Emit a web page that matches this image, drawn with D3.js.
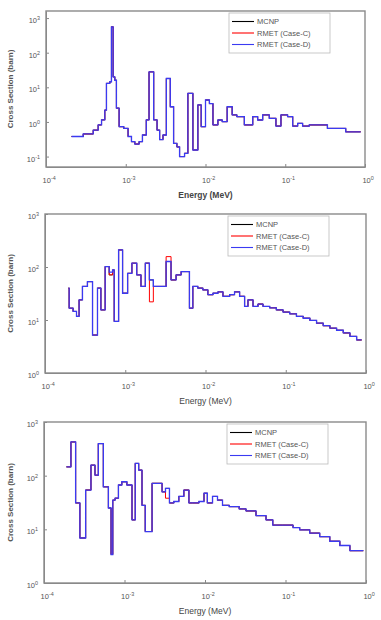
<!DOCTYPE html>
<html>
<head>
<meta charset="utf-8">
<script src="https://cdn.jsdelivr.net/npm/d3@7"></script>
<style>
  body { margin: 0; background: #fff; }
  svg { display: block; font-family: "Liberation Sans", Arial, sans-serif; }
  .axis path, .axis line { stroke: #888; }
  .axis text { fill: #555; }
</style>
</head>
<body>
<div id="chart"></div>
<script>
// ---- data (energy in MeV, cross section in barn) ----
var energyTicks = [1e-4, 1e-3, 1e-2, 1e-1, 1];
var seriesNames = ["MCNP", "RMET (Case-C)", "RMET (Case-D)"];
var seriesColors = ["#000000", "#ff0000", "#3a3af2"];

// panel 1
var p1Edges = [2.09e-4, 2.93e-4, 3.91e-4, 4.51e-4, 4.97e-4, 5.46e-4, 5.73e-4, 6.31e-4, 6.62e-4, 6.95e-4,
  7.29e-4, 7.64e-4, 8.26e-4, 9.44e-4, 1.07e-3, 1.18e-3, 1.30e-3, 1.47e-3, 1.62e-3, 1.81e-3,
  1.96e-3, 2.24e-3, 2.47e-3, 2.66e-3, 2.93e-3, 3.23e-3, 3.62e-3, 3.98e-3, 4.38e-3, 4.73e-3,
  5.46e-3, 6.01e-3, 6.95e-3, 8.02e-3, 8.83e-3, 1.0e-2, 1.12e-2, 1.24e-2, 1.43e-2, 1.62e-2,
  1.87e-2, 2.16e-2, 2.47e-2, 3.07e-2, 3.91e-2, 4.51e-2, 5.21e-2, 6.31e-2, 7.64e-2, 8.83e-2,
  0.107, 0.124, 0.143, 0.165, 0.20, 0.338, 0.573, 0.883];
var p1Mcnp = [0.38, 0.45, 0.58, 0.82, 1.15, 2.2, 13, 14.5, 560, 20,
  16, 2.5, 0.73, 0.65, 0.38, 0.27, 0.23, 0.27, 0.42, 1.15,
  28, 1.15, 0.58, 0.31, 0.42, 18, 2.75, 0.24, 0.19, 0.10,
  0.124, 6.7, 0.155, 3.1, 0.73, 4.3, 3.4, 0.82, 1.14, 1.02,
  2.75, 1.6, 1.42, 0.82, 1.42, 1.14, 1.6, 1.27, 0.76, 1.6,
  1.42, 0.76, 0.91, 0.76, 0.82, 0.65, 0.52];
var p1CaseC = [0.38, 0.45, 0.58, 0.82, 1.15, 2.2, 13, 14.5, 560, 20,
  16, 2.5, 0.73, 0.65, 0.38, 0.27, 0.23, 0.27, 0.42, 1.15,
  28, 1.15, 0.58, 0.31, 0.42, 18, 2.75, 0.24, 0.19, 0.10,
  0.124, 6.7, 0.155, 3.1, 0.73, 4.3, 3.4, 0.82, 1.14, 1.02,
  2.75, 1.6, 1.42, 0.82, 1.42, 1.14, 1.6, 1.27, 0.76, 1.6,
  1.42, 0.76, 0.91, 0.76, 0.82, 0.65, 0.52];
var p1CaseD = [0.38, 0.45, 0.58, 0.82, 1.15, 2.2, 13, 14.5, 560, 20,
  16, 2.5, 0.73, 0.65, 0.38, 0.27, 0.23, 0.27, 0.42, 1.15,
  28, 1.15, 0.58, 0.31, 0.42, 18, 2.75, 0.24, 0.19, 0.10,
  0.124, 6.7, 0.155, 3.1, 0.73, 4.3, 3.4, 0.82, 1.14, 1.02,
  2.75, 1.6, 1.42, 0.82, 1.42, 1.14, 1.6, 1.27, 0.76, 1.6,
  1.42, 0.76, 0.91, 0.76, 0.82, 0.65, 0.52];

// panel 2
var p2Edges = [1.96e-4, 2.0e-4, 2.24e-4, 2.47e-4, 2.66e-4, 2.93e-4, 3.38e-4, 3.91e-4, 4.51e-4, 4.97e-4,
  5.62e-4, 6.31e-4, 6.95e-4, 7.29e-4, 8.26e-4, 9.26e-4, 1.07e-3, 1.21e-3, 1.39e-3, 1.57e-3,
  1.78e-3, 2.0e-3, 2.24e-3, 3.23e-3, 3.72e-3, 4.30e-3, 4.97e-3, 6.31e-3, 6.95e-3, 8.02e-3,
  9.26e-3, 1.07e-2, 1.24e-2, 1.43e-2, 1.65e-2, 2.0e-2, 2.30e-2, 2.66e-2, 3.07e-2, 3.38e-2,
  3.91e-2, 4.51e-2, 5.21e-2, 6.31e-2, 7.64e-2, 9.26e-2, 0.112, 0.136, 0.165, 0.20,
  0.242, 0.293, 0.355, 0.43, 0.521, 0.631, 0.764, 0.883];
var p2Mcnp = [40, 16.7, 14.5, 11.7, 24, 43, 53, 5.2, 40, 15.5,
  102, 71, 88, 9.4, 210, 32, 76, 118, 71, 43,
  118, 57, 43, 127, 57, 71, 82, 16.7, 43, 40,
  37, 30, 32, 34, 28, 30, 34, 28, 18, 24,
  18, 20, 18, 17, 15.5, 14.1, 13.1, 11.7, 10.8, 9.8,
  8.7, 7.8, 7.0, 6.4, 5.7, 4.9, 4.2];
var p2CaseC = [40, 16.7, 14.5, 11.7, 24, 43, 53, 5.2, 40, 15.5,
  102, 71, 88, 9.4, 210, 32, 76, 118, 71, 43,
  118, 22, 43, 157, 57, 71, 82, 16.7, 43, 40,
  37, 30, 32, 34, 28, 30, 34, 28, 18, 24,
  18, 20, 18, 17, 15.5, 14.1, 13.1, 11.7, 10.8, 9.8,
  8.7, 7.8, 7.0, 6.4, 5.7, 4.9, 4.2];
var p2CaseD = [40, 16.7, 14.5, 11.7, 24, 43, 53, 5.2, 40, 15.5,
  102, 80, 88, 9.4, 210, 32, 76, 118, 71, 43,
  118, 57, 43, 127, 57, 71, 82, 16.7, 43, 40,
  37, 30, 32, 34, 28, 30, 34, 28, 18, 24,
  18, 20, 18, 17, 15.5, 14.1, 13.1, 11.7, 10.8, 9.8,
  8.7, 7.8, 7.0, 6.4, 5.7, 4.9, 4.2];

// panel 3
var p3Edges = [1.90e-4, 2.16e-4, 2.47e-4, 2.79e-4, 3.29e-4, 3.83e-4, 4.30e-4, 4.73e-4, 5.46e-4, 6.31e-4,
  6.81e-4, 7.15e-4, 7.64e-4, 8.41e-4, 9.26e-4, 1.07e-3, 1.24e-3, 1.36e-3, 1.50e-3, 1.65e-3,
  1.81e-3, 2.20e-3, 2.54e-3, 2.93e-3, 3.23e-3, 3.62e-3, 4.10e-3, 4.73e-3, 5.46e-3, 6.31e-3,
  6.95e-3, 8.41e-3, 9.72e-3, 1.07e-2, 1.24e-2, 1.43e-2, 1.65e-2, 2.0e-2, 2.66e-2, 3.23e-2,
  4.30e-2, 5.73e-2, 6.95e-2, 9.26e-2, 0.124, 0.150, 0.20, 0.266, 0.355, 0.473,
  0.631, 0.926];
var p3Mcnp = [146, 425, 31, 6.9, 54, 157, 102, 396, 62, 25,
  3.4, 35, 38, 67, 77, 67, 15, 169, 127, 28,
  9.1, 72, 72, 50, 58, 31, 33, 41, 54, 31,
  31, 33, 47, 31, 41, 35, 28, 26.5, 24, 22,
  18, 15, 12, 12, 10.8, 9.8, 8.5, 7.3, 6.0, 5.0,
  4.0];
var p3CaseC = [146, 425, 31, 6.9, 54, 157, 102, 396, 62, 25,
  3.4, 35, 38, 67, 77, 67, 15, 169, 127, 28,
  9.1, 72, 72, 50, 38, 31, 33, 41, 54, 31,
  31, 33, 47, 31, 41, 35, 28, 26.5, 24, 22,
  18, 15, 12, 12, 10.8, 9.8, 8.5, 7.3, 6.0, 5.0,
  4.0];
var p3CaseD = [146, 425, 31, 6.9, 54, 157, 102, 396, 62, 25,
  3.4, 35, 38, 67, 77, 67, 15, 169, 127, 28,
  9.1, 72, 72, 50, 58, 31, 33, 41, 54, 31,
  31, 33, 47, 31, 41, 35, 28, 26.5, 24, 22,
  18, 15, 12, 12, 10.8, 9.8, 8.5, 7.3, 6.0, 5.0,
  4.0];

var p1YTicks = [0.1, 1, 10, 100, 1000];
var p23YTicks = [1, 10, 100, 1000];

// ---- layout ----
var width = 381, height = 620;
var panels = [
  {top: 11, bottom: 167, left: 46, right: 365, ydom: [0.05, 1600], yticks: p1YTicks,
   edges: p1Edges, series: [p1Mcnp, p1CaseC, p1CaseD], bold: true},
  {top: 214, bottom: 373, left: 45, right: 366, ydom: [1, 1000], yticks: p23YTicks,
   edges: p2Edges, series: [p2Mcnp, p2CaseC, p2CaseD], bold: false},
  {top: 422, bottom: 583, left: 44, right: 366, ydom: [1, 1000], yticks: p23YTicks,
   edges: p3Edges, series: [p3Mcnp, p3CaseC, p3CaseD], bold: false}
];

var svg = d3.select("#chart").append("svg")
  .attr("width", width).attr("height", height);

function powLabel(sel) {
  sel.selectAll(".tick text").each(function(d) {
    var t = d3.select(this);
    t.text("10");
    t.append("tspan").attr("dy", "-0.55em").attr("font-size", "0.72em")
      .text(Math.round(Math.log10(d)));
  });
}

panels.forEach(function(p, pi) {
  var x = d3.scaleLog().domain([1e-4, 1]).range([p.left, p.right]);
  var y = d3.scaleLog().domain(p.ydom).range([p.bottom, p.top]);
  var g = svg.append("g");

  g.append("defs").append("clipPath").attr("id", "clip" + pi)
    .append("rect")
      .attr("x", p.left).attr("y", p.top)
      .attr("width", p.right - p.left).attr("height", p.bottom - p.top);

  // axes (ticks inward, matlab style)
  var xa = g.append("g").attr("class", "axis")
    .attr("transform", "translate(0," + p.bottom + ")")
    .call(d3.axisBottom(x).tickValues(energyTicks).tickSizeInner(-3).tickSizeOuter(0).tickPadding(11));
  xa.selectAll("text").attr("font-size", 7.5).attr("dx", "0.35em");
  powLabel(xa);

  var ya = g.append("g").attr("class", "axis")
    .attr("transform", "translate(" + p.left + ",0)")
    .call(d3.axisLeft(y).tickValues(p.yticks).tickSizeInner(-3).tickSizeOuter(0).tickPadding(6));
  ya.selectAll("text").attr("font-size", 7.5).attr("dy", "0.6em");
  powLabel(ya);

  // box
  g.append("rect")
    .attr("x", p.left).attr("y", p.top)
    .attr("width", p.right - p.left).attr("height", p.bottom - p.top)
    .attr("fill", "none").attr("stroke", "#8a8a8a").attr("stroke-width", 1.4);

  // stair lines
  var line = d3.line()
    .curve(d3.curveStepAfter)
    .x(function(d) { return x(d[0]); })
    .y(function(d) { return y(d[1]); });

  var lines = g.append("g").attr("clip-path", "url(#clip" + pi + ")");
  p.series.forEach(function(vals, si) {
    var pts = vals.map(function(v, i) { return [p.edges[i], v]; });
    pts.push([p.edges[vals.length], vals[vals.length - 1]]);
    lines.append("path")
      .attr("d", line(pts))
      .attr("fill", "none")
      .attr("stroke", seriesColors[si])
      .attr("stroke-width", si === 2 ? 1.3 : (si === 0 ? 0.9 : 1));
  });

  // legend
  var lg = g.append("g").attr("transform", "translate(" + (p.left + 183) + "," + (p.top + 2) + ")");
  lg.append("rect").attr("width", 101).attr("height", 40)
    .attr("fill", "#fff").attr("stroke", "#bbb").attr("stroke-width", 0.8);
  seriesNames.forEach(function(name, si) {
    var yy = 8.5 + si * 11.5;
    lg.append("line").attr("x1", 3).attr("x2", 25).attr("y1", yy).attr("y2", yy)
      .attr("stroke", seriesColors[si]).attr("stroke-width", 1.1);
    lg.append("text").attr("x", 28).attr("y", yy + 2.7)
      .attr("font-size", 7.5).attr("fill", "#555").text(name);
  });

  // axis titles
  g.append("text")
    .attr("x", (p.left + p.right) / 2).attr("y", p.bottom + 31)
    .attr("text-anchor", "middle").attr("font-size", 8.5)
    .attr("font-weight", p.bold ? "bold" : "normal").attr("fill", "#444")
    .text("Energy (MeV)");
  g.append("text")
    .attr("transform", "translate(13," + ((p.top + p.bottom) / 2) + ") rotate(-90)")
    .attr("text-anchor", "middle").attr("font-size", 8)
    .attr("font-weight", "bold").attr("fill", "#555")
    .text("Cross Section (barn)");
});
</script>
</body>
</html>
